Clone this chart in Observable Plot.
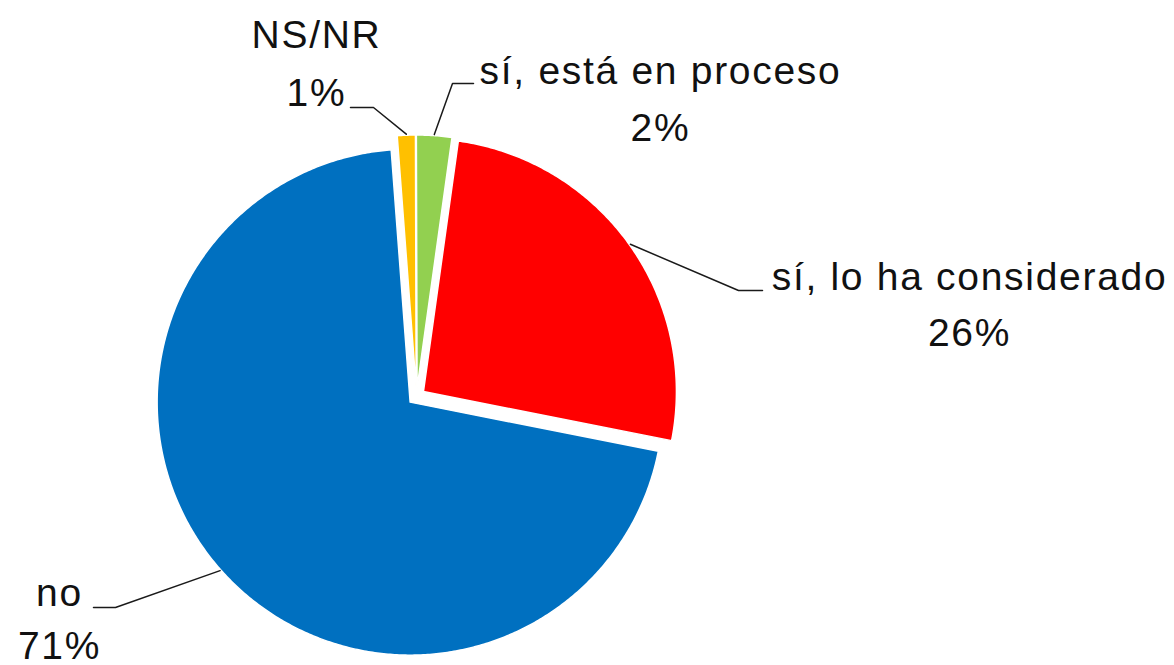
<!DOCTYPE html>
<html><head><meta charset="utf-8">
<script src="https://cdn.jsdelivr.net/npm/d3@7"></script>
<script src="https://cdn.jsdelivr.net/npm/@observablehq/plot@0.6"></script>
<style>html,body{margin:0;padding:0;background:#fff;overflow:hidden}</style>
</head><body><div id="chart"></div>
<script>
// ---- data ----
const categories = ["NS/NR", "sí, está en proceso", "sí, lo ha considerado", "no"];
const values = [1.15, 2.25, 25.9, 70.7];
const pctLabels = ["1%", "2%", "26%", "71%"];
const colors = ["#FFC000", "#92D050", "#FF0000", "#0070C0"];

// ---- layout (pixels) ----
const W = 1174, H = 665;
const cx = 416, cy = 396, R = 253, explode = 8.5, startDeg = -4.3;
const fs = 39;
const labelLayout = [
  {x: 316, nameBase: 47,  pctBase: 105, elbow: [373, 107], end: [350, 107]},
  {x: 660, nameBase: 83,  pctBase: 140, elbow: [452, 83],  end: [473, 83]},
  {x: 969, nameBase: 289, pctBase: 345, elbow: [738, 290], end: [762, 290]},
  {x: 59,  nameBase: 605, pctBase: 658, elbow: [115, 607], end: [93, 607]}
];

const rad = d => d * Math.PI / 180;
const arcs = d3.pie().sort(null).startAngle(rad(startDeg)).endAngle(rad(startDeg + 360))(values);

const slicePts = [];
const leaderPts = [];
const textRows = [];
arcs.forEach((a, i) => {
  const cat = categories[i];
  const mid = (a.startAngle + a.endAngle) / 2;
  const ox = cx + explode * Math.sin(mid), oy = cy - explode * Math.cos(mid);
  slicePts.push({cat, x: ox, y: oy});
  const n = Math.max(2, Math.ceil((a.endAngle - a.startAngle) / rad(0.5)));
  for (let k = 0; k <= n; k++) {
    const t = a.startAngle + (a.endAngle - a.startAngle) * k / n;
    slicePts.push({cat, x: ox + R * Math.sin(t), y: oy - R * Math.cos(t)});
  }
  const L = labelLayout[i];
  const ax = ox + (R + 1) * Math.sin(mid), ay = oy - (R + 1) * Math.cos(mid);
  leaderPts.push({cat, x: ax, y: ay}, {cat, x: L.elbow[0], y: L.elbow[1]}, {cat, x: L.end[0], y: L.end[1]});
  textRows.push({x: L.x, y: L.nameBase - 0.32 * fs, text: cat});
  textRows.push({x: L.x, y: L.pctBase - 0.32 * fs, text: pctLabels[i]});
});

const chart = Plot.plot({
  width: W, height: H, margin: 0,
  x: {domain: [0, W], range: [0, W], axis: null},
  y: {domain: [0, H], range: [0, H], axis: null},
  color: {domain: categories, range: colors},
  style: {background: "#fff", letterSpacing: "1.7px"},
  marks: [
    Plot.line(slicePts, {x: "x", y: "y", z: "cat", fill: "cat", stroke: "#fff", strokeWidth: 1.5, curve: "linear-closed"}),
    Plot.line(leaderPts, {x: "x", y: "y", z: "cat", stroke: "#1a1a1a", strokeWidth: 1.5}),
    Plot.text(textRows, {x: "x", y: "y", text: "text", fontSize: fs, fontFamily: "Liberation Sans, Arial, sans-serif", fill: "#111", textAnchor: "middle"})
  ]
});
document.getElementById("chart").appendChild(chart);
</script>
</body></html>
